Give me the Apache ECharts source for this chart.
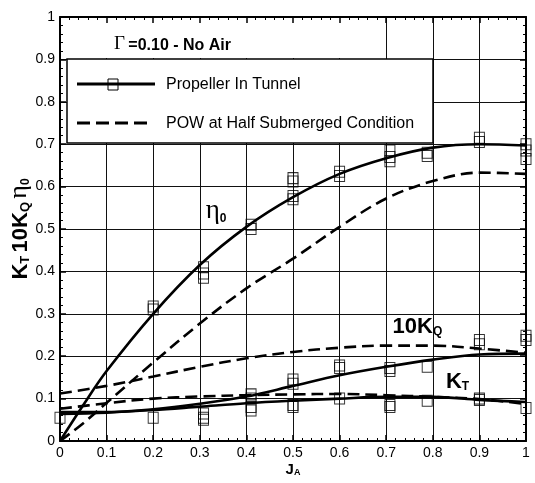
<!DOCTYPE html>
<html><head><meta charset="utf-8">
<script src="https://cdn.jsdelivr.net/npm/echarts@6/dist/echarts.min.js"></script>
<style>html,body{margin:0;padding:0;background:#fff}#c{width:535px;height:483px}</style>
</head><body><div id="c"></div>
<script>
// ---------- data ----------
const etaJ       = [0, 0.05, 0.1, 0.2, 0.3, 0.4, 0.5, 0.6, 0.7, 0.8, 0.9, 1.0];
const etaTunnel  = [0, 0.085, 0.165, 0.300, 0.415, 0.505, 0.575, 0.630, 0.667, 0.692, 0.700, 0.697];
const etaPOW     = [0, 0.042, 0.09, 0.185, 0.277, 0.36, 0.43, 0.505, 0.572, 0.613, 0.633, 0.630];

const coefJ      = [0, 0.1, 0.2, 0.3, 0.4, 0.5, 0.6, 0.7, 0.8, 0.9, 1.0];
const kq10Tunnel = [0.068, 0.068, 0.075, 0.088, 0.105, 0.130, 0.155, 0.175, 0.192, 0.204, 0.206];
const kq10POW    = [0.112, 0.130, 0.152, 0.175, 0.195, 0.210, 0.220, 0.225, 0.225, 0.218, 0.208];
const ktTunnel   = [0.064, 0.067, 0.073, 0.081, 0.089, 0.095, 0.100, 0.104, 0.104, 0.097, 0.092];
const ktPOW      = [0.076, 0.089, 0.100, 0.105, 0.108, 0.110, 0.111, 0.108, 0.104, 0.099, 0.087];

// measured points (propeller in tunnel)
const etaPtsJ  = [0.2, 0.2, 0.308, 0.308, 0.308, 0.41, 0.41, 0.5, 0.5, 0.5, 0.5, 0.6, 0.6, 0.708, 0.708, 0.708, 0.788, 0.788, 0.9, 0.9, 1.0, 1.0, 1.0];
const etaPtsV  = [0.317, 0.310, 0.410, 0.395, 0.385, 0.510, 0.500, 0.620, 0.612, 0.578, 0.570, 0.635, 0.625, 0.685, 0.670, 0.660, 0.680, 0.672, 0.715, 0.705, 0.700, 0.685, 0.665];
const kqPtsJ   = [0, 0.2, 0.308, 0.41, 0.41, 0.5, 0.5, 0.6, 0.6, 0.708, 0.708, 0.788, 0.9, 0.9, 1.0, 1.0];
const kqPtsV   = [0.055, 0.055, 0.065, 0.110, 0.100, 0.145, 0.135, 0.178, 0.172, 0.172, 0.165, 0.175, 0.238, 0.228, 0.248, 0.238];
const ktPtsJ   = [0.308, 0.308, 0.41, 0.41, 0.5, 0.5, 0.6, 0.708, 0.708, 0.788, 0.9, 0.9, 1.0];
const ktPtsV   = [0.055, 0.050, 0.080, 0.072, 0.085, 0.080, 0.100, 0.085, 0.080, 0.095, 0.100, 0.097, 0.078];

const axisTicks = [0, 0.1, 0.2, 0.3, 0.4, 0.5, 0.6, 0.7, 0.8, 0.9, 1];

// curve annotations [J, value, label]
const annotations = [
  [0.335, 0.542, '{e|η}{s|0}'],
  [0.767, 0.269, '{b|10K}{bs|Q}'],
  [0.853, 0.140, '{b|K}{bs|T}']
];

// ---------- chart ----------
const zip = (a, b) => a.map((v, i) => [v, b[i]]);
const FONT = 'Liberation Sans';
const base = {type: 'value', min: 0, max: 1, interval: 0.1};
function gridAxis(pos) {
  return Object.assign({}, base, {position: pos, z: 0,
    axisLine: {show: false}, axisTick: {show: false}, axisLabel: {show: false},
    splitLine: {show: true, lineStyle: {color: '#111', width: 1}}});
}
function tickAxis(pos, labels) {
  return Object.assign({}, base, {position: pos, z: 5,
    axisLine: {show: true, onZero: false, lineStyle: {color: '#000', width: 2}},
    axisTick: {show: true, inside: true, length: 6, lineStyle: {color: '#000', width: 1.5}},
    minorTick: {show: true, splitNumber: 5, length: 3, lineStyle: {color: '#000', width: 1}},
    axisLabel: {show: labels, margin: 5, color: '#000', fontSize: 14, fontFamily: FONT,
      formatter: v => String(axisTicks.find(t => Math.abs(t - v) < 1e-9) ?? v)},
    splitLine: {show: false}});
}
const xa = [gridAxis('bottom'), tickAxis('bottom', true), tickAxis('top', false)];
xa[1].name = '{b|J}{bs|A}';
xa[1].nameLocation = 'middle';
xa[1].nameGap = 21;
xa[1].nameMoveOverlap = false;
xa[1].nameTextStyle = {rich: {
  b: {fontFamily: FONT, fontWeight: 'bold', fontSize: 15, color: '#000', verticalAlign: 'bottom'},
  bs: {fontFamily: FONT, fontWeight: 'bold', fontSize: 9, color: '#000', verticalAlign: 'bottom'}}};
const ya = [gridAxis('left'), tickAxis('left', true), tickAxis('right', false)];
ya[1].name = '{b|K}{bs|T} {b|10K}{bs|Q} {e|η}{s|0}';
ya[1].nameLocation = 'middle';
ya[1].nameGap = 28;
ya[1].nameRotate = 90;
ya[1].nameMoveOverlap = false;
ya[1].nameTextStyle = {rich: {
  b: {fontFamily: FONT, fontWeight: 'bold', fontSize: 22, color: '#000', verticalAlign: 'bottom'},
  bs: {fontFamily: FONT, fontWeight: 'bold', fontSize: 13, color: '#000', verticalAlign: 'bottom'},
  e: {fontFamily: 'Liberation Serif', fontSize: 26, color: '#000', verticalAlign: 'bottom'},
  s: {fontFamily: FONT, fontWeight: 'bold', fontSize: 12, color: '#000', verticalAlign: 'bottom'}}};

const lineBase = (name, data, dashed) => ({
  name, type: 'line', data, smooth: 0.35, symbol: 'none', z: 3,
  lineStyle: {color: '#000', width: 2.6, type: dashed ? [12, 6] : 'solid'}
});
const markers = (data) => ({
  type: 'scatter', data, symbol: 'rect', symbolSize: [10, 11], z: 4,
  itemStyle: {color: 'rgba(0,0,0,0)', borderColor: '#000', borderWidth: 1}
});

const chart = echarts.init(document.getElementById('c'), null, {renderer: 'canvas'});
chart.setOption({
  backgroundColor: '#fff',
  animation: false,
  grid: {left: 60, right: 9, top: 17, bottom: 42, containLabel: false, outerBoundsMode: 'none'},
  xAxis: xa,
  yAxis: ya,
  series: [
    lineBase('etaTunnel', zip(etaJ, etaTunnel), false),
    lineBase('etaPOW', zip(etaJ, etaPOW), true),
    lineBase('kq10Tunnel', zip(coefJ, kq10Tunnel), false),
    lineBase('kq10POW', zip(coefJ, kq10POW), true),
    lineBase('ktTunnel', zip(coefJ, ktTunnel), false),
    lineBase('ktPOW', zip(coefJ, ktPOW), true),
    markers(zip(etaPtsJ, etaPtsV)),
    markers(zip(kqPtsJ, kqPtsV)),
    markers(zip(ktPtsJ, ktPtsV)),
    {
      type: 'scatter', symbolSize: 2, z: 6, silent: true,
      itemStyle: {color: 'rgba(255,255,255,0)'},
      data: annotations.map(a => ({value: [a[0], a[1]], label: {show: true, formatter: a[2]}})),
      label: {show: true, position: 'inside', color: '#000', opacity: 1, rich: {
        e: {fontFamily: 'Liberation Serif', fontSize: 27, color: '#000', verticalAlign: 'bottom'},
        s: {fontFamily: FONT, fontWeight: 'bold', fontSize: 12, color: '#000', verticalAlign: 'bottom'},
        b: {fontFamily: FONT, fontWeight: 'bold', fontSize: 22, color: '#000', verticalAlign: 'bottom'},
        bs: {fontFamily: FONT, fontWeight: 'bold', fontSize: 12, color: '#000', verticalAlign: 'bottom'}}}
    }
  ],
  graphic: [
    {type: 'rect', z: 1, shape: {x: 61, y: 18, width: 324, height: 40}, style: {fill: '#fff'}},
    {type: 'text', z: 2, style: {text: '{g|Γ} {t|=0.10 - No Air}', x: 114, y: 44, verticalAlign: 'middle',
      rich: {g: {font: '19px "Liberation Serif"', fill: '#000', verticalAlign: 'bottom'},
             t: {font: 'bold 16px "Liberation Sans"', fill: '#000', verticalAlign: 'bottom'}}}},
    {type: 'rect', z: 1, shape: {x: 67, y: 59, width: 366, height: 84},
      style: {fill: '#fff', stroke: '#000', lineWidth: 1.5}},
    {type: 'line', z: 2, shape: {x1: 77, y1: 84, x2: 155, y2: 84}, style: {stroke: '#000', lineWidth: 3}},
    {type: 'rect', z: 2, shape: {x: 108, y: 79, width: 10, height: 11}, style: {fill: 'none', stroke: '#000', lineWidth: 1}},
    {type: 'text', z: 2, style: {text: 'Propeller In Tunnel', x: 166, y: 85, verticalAlign: 'middle',
      font: '16px "Liberation Sans"', fill: '#000'}},
    {type: 'line', z: 2, shape: {x1: 77, y1: 123, x2: 152, y2: 123},
      style: {stroke: '#000', lineWidth: 3, lineDash: [13, 6]}},
    {type: 'text', z: 2, style: {text: 'POW at Half Submerged Condition', x: 166, y: 124, verticalAlign: 'middle',
      font: '16px "Liberation Sans"', fill: '#000'}}
  ]
});
</script>
</body></html>
